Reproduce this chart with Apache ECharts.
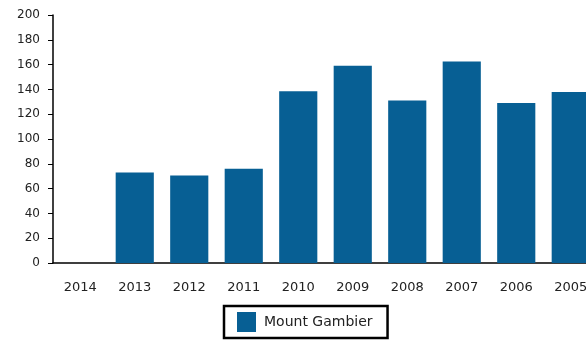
<!DOCTYPE html>
<html><head><meta charset="utf-8">
<script src="https://cdn.jsdelivr.net/npm/echarts@6/dist/echarts.min.js"></script>
<style>html,body{margin:0;padding:0;overflow:hidden;background:#fff}#c{width:598px;height:342px}</style>
</head><body><div id="c"></div>
<script>
var categories = ['2014','2013','2012','2011','2010','2009','2008','2007','2006','2005'];
var seriesName = 'Mount Gambier';
var values = [null, 73, 70.5, 76, 138.5, 159, 131, 162.5, 129, 138];
var yTicks = {min: 0, max: 200, interval: 20};

var chart = echarts.init(document.getElementById('c'), null, {renderer: 'canvas'});
chart.setOption({
  animation: false,
  grid: {left: 53, right: 0, top: 15, bottom: 79},
  legend: {
    data: [seriesName], left: 224, top: 306,
    itemWidth: 19, itemHeight: 20, itemGap: 8,
    padding: [6, 15, 6, 13],
    borderColor: '#000', borderWidth: 2.5, borderRadius: 0,
    textStyle: {fontFamily: 'DejaVu Sans', fontSize: 14, color: '#222', padding: [0, 0, 0, 3]},
    icon: 'rect'
  },
  xAxis: {
    type: 'category', data: categories, boundaryGap: true,
    axisLine: {lineStyle: {color: '#000', width: 1.5}},
    axisTick: {alignWithLabel: true, length: 5, lineStyle: {color: '#000'}},
    axisLabel: {fontFamily: 'DejaVu Sans', fontSize: 13, color: '#222', margin: 18}
  },
  yAxis: {
    type: 'value', min: yTicks.min, max: yTicks.max, interval: yTicks.interval,
    splitLine: {show: false},
    axisLine: {show: true, lineStyle: {color: '#000', width: 1.5}},
    axisTick: {show: true, length: 5, lineStyle: {color: '#000'}},
    axisLabel: {fontFamily: 'DejaVu Sans', fontSize: 12, color: '#222', margin: 13}
  },
  series: [{
    type: 'bar', name: seriesName, data: values, barWidth: '70%',
    itemStyle: {color: '#075f94'}
  }]
});
</script></body></html>
